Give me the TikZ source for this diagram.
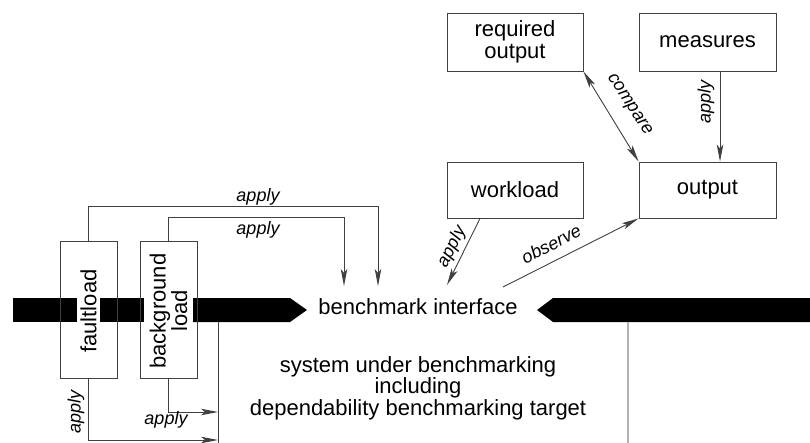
\documentclass[tikz,border=0pt]{standalone}
\usepackage{fontspec}
\setmainfont{Liberation Sans}
\usetikzlibrary{arrows.meta}
\begin{document}
\begin{tikzpicture}[x=1pt,y=-1pt,
  line/.style={draw=black!75, line width=0.9pt},
  arr/.style={line, -{Stealth[length=17pt,width=6.5pt,inset=4pt]}},
  dbl/.style={line, {Stealth[length=17pt,width=6.5pt,inset=4pt]}-{Stealth[length=17pt,width=6.5pt,inset=4pt]}},
  box/.style={draw=black!75, line width=0.9pt, inner sep=0pt, align=center,
              font=\fontsize{22}{21.5}\selectfont},
  big/.style={inner sep=0pt, align=center, font=\fontsize{22}{21.5}\selectfont},
  lbl/.style={inner sep=0pt, font=\fontsize{18}{18}\selectfont\itshape}]
\useasboundingbox (0,0) rectangle (810,443);

% black interface bars
\fill (13,298) rectangle (77,322);
\fill (100,298) rectangle (144,322);
\fill (192,298) -- (290,298) -- (307,310) -- (290,322) -- (192,322) -- cycle;
\fill (810,298) -- (553,298) -- (537,310) -- (553,322) -- (810,322) -- cycle;

% boxes
\node[box, minimum width=136, minimum height=58] (req)  at (515,42)    {required\\output};
\node[box, minimum width=137, minimum height=58] (meas) at (707.5,42)  {measures};
\node[box, minimum width=136, minimum height=56] (work) at (515,190)   {workload};
\node[box, minimum width=137, minimum height=56] (out)  at (707.5,190) {output};
\node[box, minimum width=57, minimum height=137] (fault) at (88.5,309.5) {};
\node[box, minimum width=57, minimum height=137] (bg)    at (168.5,309.5) {};
\node[big, rotate=90, fill=white, minimum height=23] (ftext) at (88.5,311) {faultload};
\node[big, rotate=90, fill=white, minimum height=48] (btext) at (168.5,311) {background\\load};

% texts of the system
\node[big] (iface) at (418,307) {benchmark interface};
\node[big] (sut) at (418,388) {system under benchmarking\\including\\dependability benchmarking target};

% connector end points
\coordinate (ftip) at (378,286);
\coordinate (btip) at (344,286);
\coordinate (wtip) at (447,285);
\coordinate (obs)  at (503,287);
\coordinate (ftip2) at (218,440);
\coordinate (btip2) at (218,412);
\coordinate (vtop) at (218,322);
\coordinate (vbot) at (218,443);
\coordinate (gtop) at (628,322);
\coordinate (gbot) at (628,443);

% connectors
\draw[arr] (fault.north) -- ++(0,-34) -| (ftip);
\draw[arr] (bg.north) -- ++(0,-23) -| (btip);
\draw[arr] (fault.south) |- (ftip2);
\draw[arr] (bg.south) |- (btip2);
\draw[line] (vtop) -- (vbot);
\draw[draw=black!30, line width=2pt] (gtop) -- (gbot);
\draw[arr] ([xshift=-35pt]work.south) -- (wtip);
\draw[arr] (obs) -- (out.south west);
\draw[dbl] (req.south east) -- (out.north west);
\draw[arr] ([xshift=12.5pt]meas.south) -- ([xshift=12.5pt]out.north);

% labels
\node[lbl] (l1) at (258,197) {apply};
\node[lbl] (l2) at (258,230) {apply};
\node[lbl, rotate=90] (l3) at (76,412) {apply};
\node[lbl] (l4) at (166,420) {apply};
\node[lbl, rotate=63] (l5) at (452,247) {apply};
\node[lbl, rotate=90] (l6) at (706,102) {apply};
\node[lbl, rotate=27] (l7) at (551,244) {observe};
\node[lbl, rotate=-57] (l8) at (629,105) {compare};
\end{tikzpicture}
\end{document}
